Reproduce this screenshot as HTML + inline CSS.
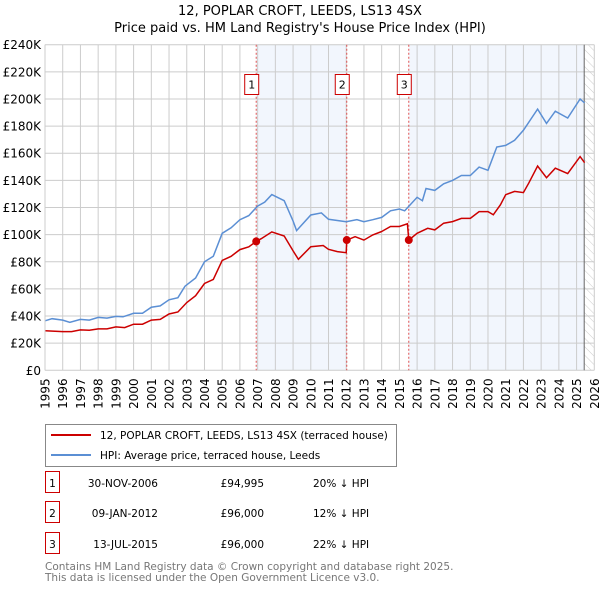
<!DOCTYPE html>
<html><head><meta charset="utf-8"><style>
body{margin:0;background:#fff;font-family:"DejaVu Sans","Liberation Sans",sans-serif;}
svg text{font-family:"DejaVu Sans","Liberation Sans",sans-serif;}
</style></head><body>
<svg id="chart" width="600" height="590" xmlns="http://www.w3.org/2000/svg">
<defs><pattern id="hatch" width="6" height="6" patternUnits="userSpaceOnUse" patternTransform="rotate(-45)"><line x1="0" y1="0" x2="0" y2="6" stroke="#ccc" stroke-width="1"/></pattern></defs>
<text x="300" y="15" text-anchor="middle" font-size="13">12, POPLAR CROFT, LEEDS, LS13 4SX</text>
<text x="300" y="32" text-anchor="middle" font-size="13">Price paid vs. HM Land Registry's House Price Index (HPI)</text>
<g id="plot"></g>
<g>
<rect x="45.5" y="424.5" width="351" height="42" fill="#fff" stroke="#888"/>
<line x1="51" y1="435" x2="91" y2="435" stroke="#cc0000" stroke-width="2"/>
<text x="100" y="439" font-size="10.5">12, POPLAR CROFT, LEEDS, LS13 4SX (terraced house)</text>
<line x1="51" y1="455" x2="91" y2="455" stroke="#5b8fd4" stroke-width="2"/>
<text x="100" y="459" font-size="10.5">HPI: Average price, terraced house, Leeds</text>
</g>
<g id="table" font-size="10.5"></g>
<text x="45" y="570" font-size="10.5" fill="#777">Contains HM Land Registry data © Crown copyright and database right 2025.</text>
<text x="45" y="581" font-size="10.5" fill="#777">This data is licensed under the Open Government Licence v3.0.</text>
</svg>
<script>
const yearTicks=[1995,1996,1997,1998,1999,2000,2001,2002,2003,2004,2005,2006,2007,2008,2009,2010,2011,2012,2013,2014,2015,2016,2017,2018,2019,2020,2021,2022,2023,2024,2025,2026];
const priceTicks=[0,20000,40000,60000,80000,100000,120000,140000,160000,180000,200000,220000,240000];
const priceTickLabels=["£0","£20K","£40K","£60K","£80K","£100K","£120K","£140K","£160K","£180K","£200K","£220K","£240K"];
const hpiT=[1995,1995.4,1996,1996.4,1997,1997.5,1998,1998.5,1999,1999.4,2000,2000.5,2001,2001.5,2002,2002.5,2002.9,2003.5,2004,2004.5,2005,2005.5,2006,2006.5,2007,2007.4,2007.8,2008.5,2009,2009.2,2010,2010.6,2011,2012,2012.6,2013,2013.5,2014,2014.5,2015,2015.3,2016,2016.3,2016.5,2017,2017.5,2018,2018.5,2019,2019.5,2020,2020.5,2021,2021.5,2022,2022.5,2022.8,2023.3,2023.8,2024.5,2025.2,2025.45];
const hpiV=[36.5,38,37,35.3,37.5,37,39,38.5,39.7,39.4,42,42,46.5,47.5,52,53.5,62,68,80,84,101,105,111,114,121,124,129.5,125,110,103,114.5,116,111.3,109.5,111,109.5,111,112.7,117.6,118.9,117.6,127.5,125,134,132.6,137.5,140,143.6,143.6,149.8,147.4,164.6,165.8,169.5,176.9,186.7,192.5,182,191,186,200,197];
const ppT=[1995,1996,1996.5,1997,1997.5,1998,1998.5,1999,1999.5,2000,2000.5,2001,2001.5,2002,2002.5,2003,2003.5,2004,2004.5,2005,2005.5,2006,2006.5,2006.92,2007.2,2007.8,2008.5,2009,2009.3,2010,2010.7,2011,2011.5,2012.0,2012.03,2012.5,2013,2013.5,2014,2014.5,2015,2015.45,2015.53,2016,2016.6,2017,2017.5,2018,2018.5,2019,2019.5,2020,2020.3,2020.7,2021,2021.5,2022,2022.3,2022.8,2023.3,2023.8,2024.5,2025.2,2025.45];
const ppV=[29.2,28.5,28.5,29.8,29.5,30.5,30.5,32,31.5,34,34,37,37.5,41.5,43,50,55,64,67,81,84,89,91,95,97,102,99,88,81.8,91.1,92,89.2,87.5,86.7,96,98.5,96,99.8,102.3,106,106,108,96,101,104.7,103.5,108.4,109.6,112,112,117,117,114.6,122,129.4,131.9,131,137.9,150.6,142,149,145,157.5,153];
const saleT=[2006.92,2012.03,2015.53];
const saleV=[94995,96000,96000];
const saleDates=["30-NOV-2006","09-JAN-2012","13-JUL-2015"];
const salePrices=["£94,995","£96,000","£96,000"];
const saleDiffs=["20% ↓ HPI","12% ↓ HPI","22% ↓ HPI"];

const NS="http://www.w3.org/2000/svg";
const X0=45,X1=594.3,Y0=370.3,Y1=44.7;
const x=t=>X0+(t-1995)/(2026-1995)*(X1-X0);
const y=v=>Y0-v/240000*(Y0-Y1);
const plot=document.getElementById('plot');
function mk(tag,at,parent){const e=document.createElementNS(NS,tag);for(const k in at)e.setAttribute(k,at[k]);(parent||plot).appendChild(e);return e;}
mk('rect',{x:X0,y:Y1,width:X1-X0,height:Y0-Y1,fill:'#fff'});
let r=mk('rect',{x:x(saleT[0]),y:Y1,width:x(saleT[1])-x(saleT[0]),height:Y0-Y1,fill:'#f2f6fd'});


r=mk('rect',{x:x(saleT[2]),y:Y1,width:x(2025.43)-x(saleT[2]),height:Y0-Y1,fill:'#f2f6fd'});


r=mk('rect',{x:x(2025.43),y:Y1,width:X1-x(2025.43),height:Y0-Y1,fill:'url(#hatch)'});


yearTicks.forEach(t=>{
 mk('line',{x1:x(t),x2:x(t),y1:Y1,y2:Y0,stroke:'#ccc','stroke-width':1});
 const tx=mk('text',{x:0,y:0,'font-size':12,'text-anchor':'end',transform:`translate(${x(t)+4.5},${Y0+8}) rotate(-90)`});
 tx.textContent=t;
 
 
});
priceTicks.forEach((v,i)=>{
 mk('line',{x1:X0,x2:X1,y1:y(v),y2:y(v),stroke:'#ccc','stroke-width':1});
 const tx=mk('text',{x:X0-4,y:y(v)+4.5,'font-size':12,'text-anchor':'end'});
 tx.textContent=priceTickLabels[i];
 
 
});
mk('line',{x1:x(2025.43),x2:x(2025.43),y1:Y1,y2:Y0,stroke:'#666','stroke-width':1});
saleT.forEach((t,i)=>{
 const l=mk('line',{x1:x(t),x2:x(t),y1:Y1,y2:Y0,stroke:'#e05050','stroke-width':1,'stroke-dasharray':'2,2'});
 
 
 const b=mk('rect',{x:x(t)-11.5,y:74.5,width:14,height:20,fill:'#fff',stroke:'#cc0000'});
 
 
 const tx=mk('text',{x:x(t)-4.5,y:88.5,'font-size':11,'text-anchor':'middle'});tx.textContent=i+1;
});
const path=(T,V)=>T.map((t,i)=>(i?'L':'M')+x(t).toFixed(1)+','+y(V[i]*1000).toFixed(1)).join('');
let p=mk('path',{d:path(hpiT,hpiV),fill:'none',stroke:'#5b8fd4','stroke-width':1.5});


p=mk('path',{d:path(ppT,ppV),fill:'none',stroke:'#cc0000','stroke-width':1.5});


saleT.forEach((t,i)=>{
 const c=mk('circle',{cx:x(t),cy:y(saleV[i]),r:4,fill:'#cc0000'});
 
 
});
mk('line',{x1:X0,x2:X0,y1:Y1,y2:Y0,stroke:'#ccc'});
const tb=document.getElementById('table');
const rowY=[484,514,545];
saleDates.forEach((d,i)=>{
 const g=mk('g',{},tb);
 
 
 mk('rect',{x:45.5,y:rowY[i]-12.5,width:14,height:21,fill:'#fff',stroke:'#cc0000'},g);
 let t=mk('text',{x:52.5,y:rowY[i]+3,'text-anchor':'middle'},g);t.textContent=i+1;
 t=mk('text',{x:158,y:rowY[i]+3,'text-anchor':'end'},g);t.textContent=d;
 t=mk('text',{x:264,y:rowY[i]+3,'text-anchor':'end'},g);t.textContent=salePrices[i];
 t=mk('text',{x:313,y:rowY[i]+3},g);t.textContent=saleDiffs[i];
});
</script>
</body></html>
